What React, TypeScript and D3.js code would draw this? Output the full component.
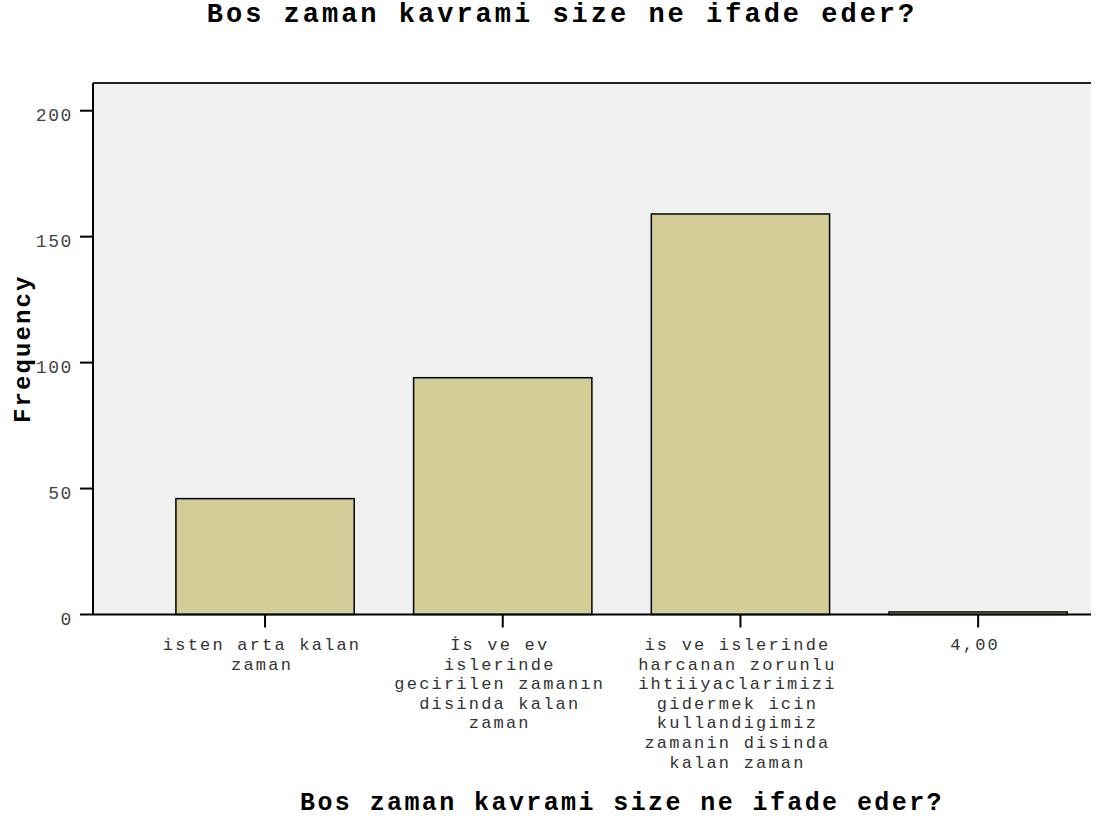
import React from "react";
import * as d3 from "d3";

const categories: string[][] = [
  ["isten arta kalan", "zaman"],
  ["İs ve ev", "islerinde", "gecirilen zamanın", "disinda kalan", "zaman"],
  [
    "is ve islerinde",
    "harcanan zorunlu",
    "ihtiiyaclarimizi",
    "gidermek icin",
    "kullandigimiz",
    "zamanin disinda",
    "kalan zaman",
  ],
  ["4,00"],
];
const categoryKeys = ["c1", "c2", "c3", "c4"];
const frequencies = [46, 94, 159, 1];
const yTicks = [0, 50, 100, 150, 200];
const chartTitle = "Bos zaman kavrami size ne ifade eder?";
const xTitle = "Bos zaman kavrami size ne ifade eder?";
const yTitle = "Frequency";

const W = 1101;
const H = 823;
const plotLeft = 93;
const plotRight = 1091;
const plotTop = 83;
const plotBottom = 614.5;

const MONO = "'Courier New', 'Liberation Mono', monospace";

export default function App() {
  const x = d3
    .scaleBand<string>()
    .domain(categoryKeys)
    .range([146.2, 1097])
    .paddingInner(0.25)
    .paddingOuter(0.125);
  const y = d3.scaleLinear().domain([0, 211]).range([plotBottom, plotTop]);

  return (
    <svg
      width={W}
      height={H}
      style={{ position: "absolute", left: 0, top: 0, background: "#fff" }}
    >
      <text
        x={562}
        y={22}
        textAnchor="middle"
        fontFamily={MONO}
        fontWeight="bold"
        fontSize={27}
        letterSpacing={3}
        fill="#000"
      >
        {chartTitle}
      </text>

      <rect
        x={plotLeft}
        y={plotTop}
        width={plotRight - plotLeft}
        height={plotBottom - plotTop}
        fill="#f0f0f0"
      />

      {frequencies.map((v, i) => {
        const k = categoryKeys[i];
        const x0 = x(k)!;
        return (
          <rect
            key={k}
            x={x0}
            y={y(v)}
            width={x.bandwidth()}
            height={plotBottom - y(v)}
            fill="#d3ce98"
            stroke="#000"
            strokeWidth={1.5}
          />
        );
      })}

      {/* frame lines */}
      <line x1={plotLeft} x2={plotRight} y1={plotTop} y2={plotTop} stroke="#222" strokeWidth={2} />
      <line x1={plotLeft} x2={plotLeft} y1={plotTop} y2={plotBottom} stroke="#000" strokeWidth={2} />
      <line x1={plotLeft} x2={plotRight} y1={plotBottom} y2={plotBottom} stroke="#000" strokeWidth={2} />

      {/* y ticks */}
      {yTicks.map((t) => (
        <g key={t}>
          <line x1={80} x2={plotLeft} y1={y(t)} y2={y(t)} stroke="#000" strokeWidth={2} />
          <text
            x={73}
            y={y(t) + 10}
            textAnchor="end"
            fontFamily={MONO}
            fontSize={18}
            letterSpacing={1.6}
            fill="#444"
          >
            {t}
          </text>
        </g>
      ))}

      {/* x ticks */}
      {categories.map((lines, i) => {
        const cx = x(categoryKeys[i])! + x.bandwidth() / 2;
        return (
          <g key={i}>
            <line x1={cx} x2={cx} y1={plotBottom} y2={627.5} stroke="#000" strokeWidth={2} />
            <text
              x={cx - 3}
              textAnchor="middle"
              fontFamily={MONO}
              fontSize={17}
              letterSpacing={2.2}
              fill="#333"
            >
              {lines.map((l, j) => (
                <tspan key={j} x={cx - 3} y={650 + j * 19.6}>
                  {l}
                </tspan>
              ))}
            </text>
          </g>
        );
      })}

      <text
        x={622}
        y={810}
        textAnchor="middle"
        fontFamily={MONO}
        fontWeight="bold"
        fontSize={25}
        letterSpacing={2.4}
        fill="#000"
      >
        {xTitle}
      </text>

      <text
        transform={`translate(30, ${(plotTop + plotBottom) / 2}) rotate(-90)`}
        textAnchor="middle"
        fontFamily={MONO}
        fontWeight="bold"
        fontSize={24}
        letterSpacing={2.1}
        fill="#000"
      >
        {yTitle}
      </text>
    </svg>
  );
}
